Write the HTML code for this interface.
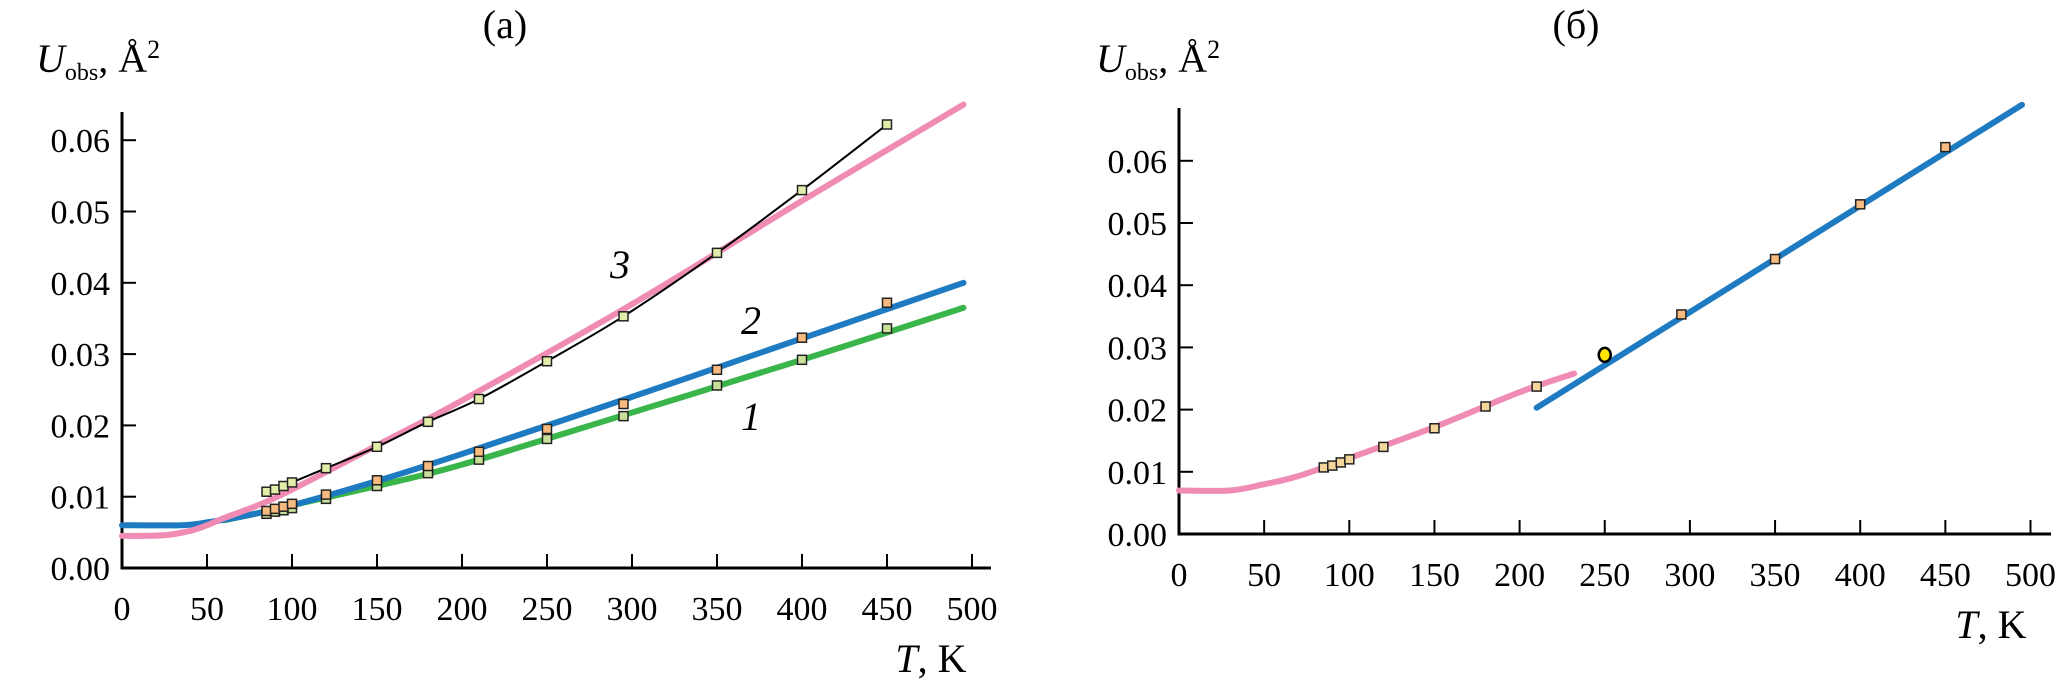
<!DOCTYPE html>
<html><head><meta charset="utf-8"><style>
body{margin:0;background:#fff}
svg{display:block}
text{font-family:"Liberation Serif",serif;fill:#000}
</style></head><body>
<svg id="c" width="2067" height="688" xmlns="http://www.w3.org/2000/svg"></svg>
<script>
// ---------- data ----------
const xTicks=[0,50,100,150,200,250,300,350,400,450,500];
const yTicks=[0,0.01,0.02,0.03,0.04,0.05,0.06];
const yTickLabels=["0.00","0.01","0.02","0.03","0.04","0.05","0.06"];
const ptT=[85,90,95,100,120,150,180,210,250,295,350,400,450];
const pts3=[0.0107,0.011,0.0115,0.012,0.014,0.017,0.0205,0.0237,0.029,0.0353,0.0442,0.053,0.0622];
const pts2=[0.008,0.0083,0.0086,0.009,0.0103,0.0123,0.0143,0.0163,0.0195,0.023,0.0278,0.0323,0.0372];
const pts1=[0.0076,0.0079,0.0081,0.0084,0.0097,0.0115,0.0133,0.0152,0.0181,0.0213,0.0256,0.0292,0.0336];
const pinkAT=[0,25,40,50,60,80,100,150,200,300,400,495];
const pinkAU=[0.0045,0.0046,0.0052,0.006,0.007,0.0088,0.011,0.0172,0.0235,0.037,0.0515,0.065];
const blueAT=[0,35,50,70,100,150,200,300,400,495];
const blueAU=[0.006,0.006,0.0064,0.0072,0.0088,0.0122,0.016,0.024,0.0322,0.04];
const greenAT=[60,80,100,150,200,300,400,495];
const greenAU=[0.0067,0.0077,0.0088,0.0115,0.0145,0.0218,0.0292,0.0365];
const pinkBT=[0,30,50,70,100,150,200,232];
const pinkBU=[0.007,0.007,0.008,0.0093,0.0122,0.0172,0.0228,0.0258];
const blueBT=[210,495];
const blueBU=[0.0203,0.069];
const ptBT=[85,90,95,100,120,150,180,210];
const ptBU=[0.0107,0.011,0.0115,0.012,0.014,0.017,0.0205,0.0237];
const ptB2T=[295,350,400,450];
const ptB2U=[0.0353,0.0442,0.053,0.0622];
const circT=[250];const circU=[0.0288];

const NS="http://www.w3.org/2000/svg";
const svg=document.getElementById('c');
function mk(tag,attrs,parent){const e=document.createElementNS(NS,tag);for(const k in attrs)e.setAttribute(k,attrs[k]);(parent||svg).appendChild(e);return e;}

function panel(P){
  const g=mk('g',{});
  
  
  const X=t=>P.x0+t*P.kx, Y=u=>P.y0-u*P.ky;
  P.X=X;P.Y=Y;
  const ax=mk('path',{d:`M${P.x0} ${P.top}V${P.y0}H${P.xEnd}`,stroke:'#000','stroke-width':3,fill:'none'},g);
  
  
  xTicks.forEach(t=>{
    if(t>0){const tk=mk('line',{x1:X(t),x2:X(t),y1:P.y0,y2:P.y0-14,stroke:'#000','stroke-width':2},g);
    
    }
    const tl=mk('text',{x:X(t),y:P.y0+52,'font-size':34,'text-anchor':'middle'},g);tl.textContent=t;
    
    
  });
  yTicks.forEach((u,i)=>{
    if(i>0){const tk=mk('line',{x1:P.x0,x2:P.x0+14,y1:Y(u),y2:Y(u),stroke:'#000','stroke-width':2},g);
    
    }
    const tl=mk('text',{x:P.x0-12,y:Y(u)+12,'font-size':34,'text-anchor':'end'},g);tl.textContent=yTickLabels[i];
    
    
  });
  const xt=mk('text',{x:P.xEnd-60,y:P.y0+104,'font-size':40,'text-anchor':'middle'},g);
  xt.innerHTML='<tspan font-style="italic">T</tspan>, K';
  
  
  const yt=mk('text',{x:P.ylx,y:72,'font-size':40},g);
  yt.innerHTML='<tspan font-style="italic">U</tspan><tspan font-size="24" dy="8">obs</tspan><tspan dy="-8">, Å</tspan><tspan font-size="26" dy="-14">2</tspan>';
  
  
  const tt=mk('text',{x:P.tx,y:38,'font-size':40,'text-anchor':'middle'},g);tt.textContent=P.title;
  
  
  P.g=g;return P;
}
function curve(P,T,U,color,w,name){
  const p=T.map((t,i)=>[P.X(t),P.Y(U[i])]);
  let d=`M${p[0][0]} ${p[0][1]}`;
  for(let i=0;i<p.length-1;i++){
    const a=p[i-1]||p[i],b=p[i],c=p[i+1],e=p[i+2]||c;
    d+=`C${b[0]+(c[0]-a[0])/6} ${b[1]+(c[1]-a[1])/6} ${c[0]-(e[0]-b[0])/6} ${c[1]-(e[1]-b[1])/6} ${c[0]} ${c[1]}`;
  }
  const el=mk('path',{d,stroke:color,'stroke-width':w,fill:'none','stroke-linecap':'round'},P.g);
  
  
}
function marks(P,T,U,fill,name){
  T.forEach((t,i)=>{
    const r=mk('rect',{x:P.X(t)-4.5,y:P.Y(U[i])-4.5,width:9,height:9,fill,stroke:'#222','stroke-width':1.5},P.g);
    
    
  });
}
function label(P,txt,x,y){
  const t=mk('text',{x,y,'font-size':40,'font-style':'italic'},P.g);t.textContent=txt;
  
  
}

const A=panel({name:'panel-a',x0:122,y0:568,kx:1.7,ky:7130,top:112,xEnd:991,ylx:36,tx:505,title:'(а)'});
curve(A,greenAT,greenAU,'#3ab54a',6,'curve-1');
curve(A,blueAT,blueAU,'#1f7bc1',6,'curve-2');
curve(A,pinkAT,pinkAU,'#f08bb4',6,'curve-3');
curve(A,ptT.slice(3),pts3.slice(3),'#000',2,'curve-3-data-line');
marks(A,ptT,pts1,'#c9e09a','points-1');
marks(A,ptT,pts2,'#f7bb80','points-2');
marks(A,ptT,pts3,'#e3edaa','points-3');
label(A,'3',610,278);
label(A,'2',741,334);
label(A,'1',741,430);

const B=panel({name:'panel-b',x0:1179,y0:534,kx:1.703,ky:6220,top:108,xEnd:2051,ylx:1096,tx:1576,title:'(б)'});
curve(B,pinkBT,pinkBU,'#f08bb4',6,'curve-pink');
curve(B,blueBT,blueBU,'#1f7bc1',6,'curve-blue');
marks(B,ptBT,ptBU,'#f4d59a','points-low');
marks(B,ptB2T,ptB2U,'#f7bb80','points-high');
circT.forEach((t,i)=>{
  const c=mk('ellipse',{cx:B.X(t),cy:B.Y(circU[i]),rx:6,ry:7,fill:'#ffe600',stroke:'#000','stroke-width':2.5},B.g);
  
  
});
</script>
</body></html>
